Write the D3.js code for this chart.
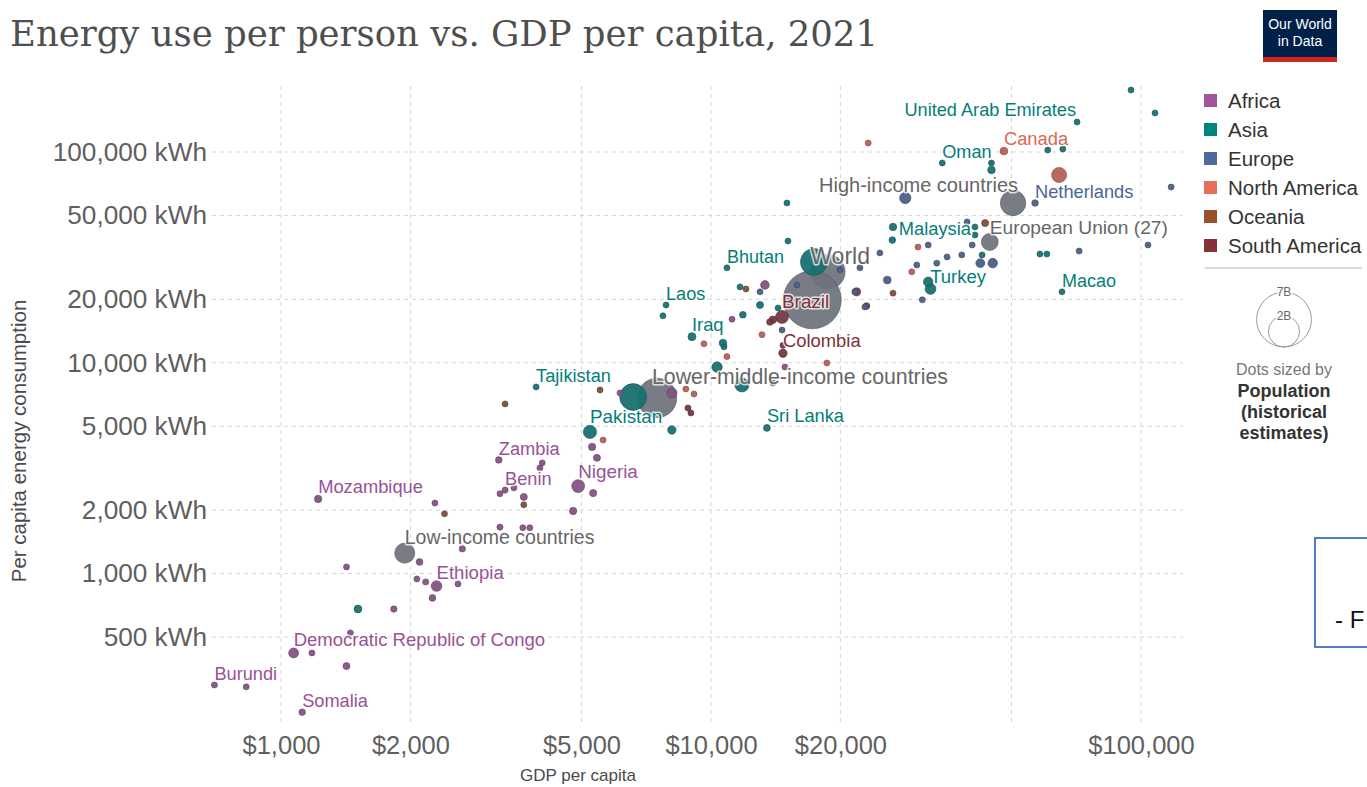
<!DOCTYPE html>
<html>
<head>
<meta charset="utf-8">
<script src="https://cdn.jsdelivr.net/npm/d3@7"></script>
<style>
  html, body { margin: 0; padding: 0; background: #fff; }
  svg { display: block; font-family: "Liberation Sans", Arial, Helvetica, sans-serif; }
</style>
</head>
<body>
<svg id="chart" width="1367" height="787"></svg>
<script>
// ---------------- data ----------------
const regions = ["Africa", "Asia", "Europe", "North America", "Oceania", "South America"];
const regionColors = ["#a2559c", "#00847e", "#4c6a9c", "#e56e5a", "#9a5129", "#883039"];

// Each row: [GDP per capita ($), energy use per person (kWh), population (millions), label]
const africa = [
  [700, 296, 12, "Burundi"], [830, 290, 5, ""], [1070, 420, 95, "Democratic Republic of Congo"],
  [1180, 420, 10, ""], [1120, 220, 17, "Somalia"], [1220, 2260, 32, "Mozambique"],
  [1420, 1075, 8, ""], [1420, 364, 25, ""], [1450, 523, 6, ""], [1830, 679, 15, ""],
  [2100, 1135, 20, ""], [2640, 1310, 15, ""], [2070, 943, 10, ""], [2170, 912, 12, ""],
  [2300, 873, 120, "Ethiopia"], [2580, 893, 5, ""], [2250, 766, 20, ""], [2280, 2160, 10, ""],
  [3210, 3460, 19, "Zambia"], [4050, 3350, 5, ""], [4000, 3170, 3, ""], [3320, 2490, 13, "Benin"],
  [3230, 2390, 8, ""], [3480, 2550, 6, ""], [3670, 2310, 25, ""], [4780, 1980, 30, ""],
  [4910, 2600, 213, "Nigeria"], [5320, 2410, 28, ""], [5290, 3990, 30, ""], [5430, 3540, 25, ""],
  [3230, 1660, 12, ""], [3650, 1650, 8, ""], [3790, 1650, 6, ""], [6140, 7190, 10, ""],
  [8110, 7190, 105, ""], [11190, 16100, 7, ""], [13350, 23400, 60, ""], [14860, 9550, 2.5, ""]
];
const asia = [
  [94800, 196800, 3, ""], [107800, 153100, 6, ""], [71000, 138800, 9, "United Arab Emirates"],
  [34500, 88700, 5, "Oman"], [60700, 102200, 4, ""], [65800, 103300, 0.5, ""],
  [44900, 88700, 1.5, ""], [44900, 82200, 35, ""], [26500, 44100, 33, "Malaysia"],
  [26400, 38200, 19, ""], [41100, 44100, 1, ""], [41100, 40400, 3, ""], [42700, 32500, 9, ""],
  [58200, 32800, 7, ""], [60400, 32800, 0.4, ""], [65500, 21700, 0.7, "Macao"],
  [32000, 24200, 85, "Turkey"], [32400, 22400, 125, ""], [10890, 28200, 0.8, "Bhutan"],
  [15020, 57300, 6, ""], [15100, 37800, 6, ""], [17350, 30100, 1412, ""],
  [7860, 18800, 7, "Laos"], [7730, 16700, 3, ""], [9030, 13300, 43, "Iraq"],
  [10660, 12400, 35, ""], [10720, 11900, 10, ""], [11860, 16900, 20, ""], [13000, 18800, 26, ""],
  [14320, 18200, 5, ""], [11680, 22900, 10, ""], [3920, 7680, 10, "Tajikistan"],
  [6590, 6880, 1408, ""], [5230, 4700, 231, "Pakistan"], [8110, 4800, 54, ""],
  [13490, 4910, 22, "Sri Lanka"], [11800, 7850, 274, ""], [1510, 679, 40, ""], [10330, 9550, 110, ""]
];
const europe = [
  [117500, 68200, 5, ""], [56700, 57300, 18, "Netherlands"], [28300, 60500, 144, ""],
  [39400, 46600, 10, ""], [71800, 33900, 9, ""], [103800, 36200, 5, ""], [30100, 29100, 10, ""],
  [33500, 29700, 10, ""], [38300, 32500, 6, ""], [35400, 31800, 5, ""], [40500, 36200, 11, ""],
  [42300, 29700, 67, ""], [45200, 29700, 83, ""], [25700, 24700, 38, ""], [31000, 19900, 10, ""],
  [22800, 18400, 3, ""], [13000, 21700, 7, ""], [15850, 23400, 3, ""], [14630, 14300, 3, ""],
  [21600, 21700, 9, ""], [24700, 33200, 5, ""], [22200, 28200, 2, ""], [19950, 27600, 4, ""],
  [32000, 36200, 5, ""], [13930, 8020, 3, ""]
];
const northAmerica = [
  [48000, 101100, 38, "Canada"], [64500, 77800, 332, ""], [23200, 110300, 1.5, ""],
  [30300, 35400, 0.4, ""], [29300, 27000, 3, ""], [9630, 12300, 11, ""], [10890, 10700, 10, ""],
  [13140, 13600, 3, ""], [18600, 9980, 3, ""], [8740, 7510, 10, ""], [9130, 7110, 10, ""],
  [5610, 4300, 10, ""]
];
const oceania = [
  [43400, 46000, 26, ""], [26500, 21400, 5, ""], [5520, 7430, 1, ""], [3320, 6380, 0.5, ""],
  [2400, 1920, 10, ""], [3670, 2120, 0.7, ""], [12060, 22400, 1, ""]
];
const southAmerica = [
  [14630, 16500, 214, "Brazil"], [14700, 11100, 51, "Colombia"], [14700, 12100, 3, ""],
  [13930, 16000, 33, ""], [13710, 15600, 18, ""], [21800, 21700, 45, ""], [23000, 18600, 19, ""],
  [8840, 6100, 12, ""], [8980, 5780, 7, ""]
];
const regionRows = [africa, asia, europe, northAmerica, oceania, southAmerica];

// Aggregate entities: [name, GDP per capita, energy per person, population (millions), labelled]
const aggregates = [
  ["Upper-middle-income countries", 18700, 27000, 2500, false],
  ["World", 17200, 19900, 7900, true],
  ["Lower-middle-income countries", 7490, 6810, 3400, true],
  ["High-income countries", 50400, 57300, 1240, true],
  ["Low-income countries", 1940, 1250, 700, true],
  ["European Union (27)", 44500, 37400, 447, true]
];

const xTickValues = [1000, 2000, 5000, 10000, 20000, 100000];
const xGridValues = [1000, 2000, 5000, 10000, 20000, 50000, 100000];
const yTickValues = [500, 1000, 2000, 5000, 10000, 20000, 50000, 100000];
const sizeLegendValues = [7000, 2000];
const sizeLegendLabels = ["7B", "2B"];

// ---------------- layout ----------------
const svg = d3.select("#chart");
const plot = { left: 212, right: 1183, top: 86, bottom: 722 };

const x = d3.scaleLog().domain([1000, 100000]).range([281, 1141]);
const y = d3.scaleLog().domain([500, 100000]).range([637, 152]);
const r = d3.scaleSqrt().domain([0, 7900]).range([2, 29]);
const radius = p => Math.max(3, r(p));

const aggregateColor = "#6d717b";
const dotFill = c => d3.interpolateRgb(c, "#4b4b55")(0.33);

// Title
svg.append("text")
  .attr("x", 10).attr("y", 46)
  .attr("font-family", "'DejaVu Serif', 'Liberation Serif', serif")
  .attr("font-size", 35)
  .attr("fill", "#4e4e4e")
  .attr("textLength", 868).attr("lengthAdjust", "spacingAndGlyphs")
  .text("Energy use per person vs. GDP per capita, 2021");

// Logo
const logo = svg.append("g");
logo.append("rect").attr("x", 1263).attr("y", 10).attr("width", 74).attr("height", 48).attr("fill", "#002147");
logo.append("rect").attr("x", 1263).attr("y", 57).attr("width", 74).attr("height", 5).attr("fill", "#ce261e");
logo.selectAll("text.logo").data(["Our World", "in Data"]).join("text")
  .attr("class", "logo")
  .attr("x", 1300).attr("y", (d, i) => 29 + i * 17)
  .attr("text-anchor", "middle").attr("font-size", 14).attr("fill", "#fff")
  .text(d => d);

// Gridlines
const grid = svg.append("g").attr("stroke", "#d6d6d6").attr("stroke-dasharray", "4,4").attr("stroke-width", 1);
grid.selectAll("line.gy").data(yTickValues).join("line")
  .attr("class", "gy")
  .attr("x1", plot.left).attr("x2", plot.right)
  .attr("y1", d => y(d)).attr("y2", d => y(d));
grid.selectAll("line.gx").data(xGridValues).join("line")
  .attr("class", "gx")
  .attr("x1", d => x(d)).attr("x2", d => x(d))
  .attr("y1", plot.top).attr("y2", plot.bottom);

// Axes (labels only; the dashed grid carries the lines)
const xAxis = d3.axisBottom(x).tickValues(xTickValues).tickSize(0).tickPadding(0)
  .tickFormat(d => "$" + d3.format(",")(d));
const gx = svg.append("g").attr("transform", `translate(0, ${plot.bottom + 14})`).call(xAxis);
gx.select(".domain").remove();
gx.selectAll("text").attr("font-size", 25.5).attr("fill", "#5f5f5f")
  .attr("font-family", "'Liberation Sans', Arial, sans-serif").attr("dy", "0.71em");

const yAxis = d3.axisLeft(y).tickValues(yTickValues).tickSize(0).tickPadding(0)
  .tickFormat(d => d3.format(",")(d) + " kWh");
const gy = svg.append("g").attr("transform", `translate(${plot.left - 5}, 0)`).call(yAxis);
gy.select(".domain").remove();
gy.selectAll("text").attr("font-size", 26.2).attr("fill", "#5f5f5f")
  .attr("font-family", "'Liberation Sans', Arial, sans-serif");

// Axis titles
svg.append("text")
  .attr("x", 578).attr("y", 781).attr("text-anchor", "middle")
  .attr("font-size", 17).attr("fill", "#4a4a4a")
  .text("GDP per capita");
svg.append("text")
  .attr("transform", "translate(26, 441) rotate(-90)").attr("text-anchor", "middle")
  .attr("font-size", 20.5).attr("fill", "#4a4a4a")
  .text("Per capita energy consumption");

// ---------------- points ----------------
const countryPoints = [];
regionRows.forEach((rows, ri) => {
  rows.forEach(([gdp, energy, pop, label]) => {
    countryPoints.push({ gdp, energy, pop, label, color: regionColors[ri], aggregate: false });
  });
});
const aggregatePoints = aggregates.map(([label, gdp, energy, pop, show]) =>
  ({ gdp, energy, pop, label: show ? label : "", color: aggregateColor, aggregate: true }));

const dots = svg.append("g");
// aggregates underneath, then countries from largest to smallest
dots.selectAll("circle.agg").data(aggregatePoints).join("circle")
  .attr("class", "agg")
  .attr("cx", d => x(d.gdp)).attr("cy", d => y(d.energy)).attr("r", d => radius(d.pop))
  .attr("fill", aggregateColor).attr("fill-opacity", 0.92)
  .attr("stroke", "#55585f").attr("stroke-width", 0.6);

dots.selectAll("circle.pt").data(countryPoints.slice().sort((a, b) => b.pop - a.pop)).join("circle")
  .attr("class", "pt")
  .attr("cx", d => x(d.gdp)).attr("cy", d => y(d.energy)).attr("r", d => radius(d.pop))
  .attr("fill", d => dotFill(d.color)).attr("fill-opacity", 0.95)
  .attr("stroke", d => d3.color(dotFill(d.color)).darker(0.8)).attr("stroke-width", 0.6);

// ---------------- labels ----------------
// placement tweaks relative to each dot (dx, dy in px from dot centre)
const labelPlacement = {
  "United Arab Emirates": rr => ({ anchor: "end", dx: -1, dy: -6 }),
  "Malaysia": rr => ({ anchor: "start", dx: rr + 2, dy: 8 }),
  "Turkey": rr => ({ anchor: "start", dx: 2, dy: 1 }),
  "World": rr => ({ anchor: "start", dx: -2, dy: -rr - 7 }),
  "High-income countries": rr => ({ anchor: "end", dx: 5, dy: -11 }),
  "Lower-middle-income countries": rr => ({ anchor: "start", dx: -5, dy: -14 }),
  "Low-income countries": rr => ({ anchor: "start", dx: 0, dy: -9 }),
  "European Union (27)": rr => ({ anchor: "start", dx: 0, dy: -8 })
};
const labelled = countryPoints.concat(aggregatePoints).filter(d => d.label);
const labels = svg.append("g");
labelled.forEach(d => {
  const rr = radius(d.pop);
  const p = (labelPlacement[d.label] || (q => ({ anchor: "start", dx: 0, dy: -q - 2 })))(rr);
  const col = d.aggregate ? "#666" : d3.interpolateRgb(d.color, "#333")(0.08);
  labels.append("text")
    .attr("x", x(d.gdp) + p.dx).attr("y", y(d.energy) + p.dy)
    .attr("text-anchor", p.anchor)
    .attr("font-size", 18 + 1.8 * Math.sqrt(d.pop / 1000))
    .attr("fill", col)
    .attr("stroke", "#fff").attr("stroke-width", 3).attr("stroke-opacity", 0.75)
    .attr("stroke-linejoin", "round").attr("paint-order", "stroke")
    .text(d.label);
});

// ---------------- legend ----------------
const legend = svg.append("g");
regions.forEach((name, i) => {
  const cy = 101 + i * 29;
  legend.append("rect").attr("x", 1204).attr("y", cy - 7).attr("width", 13).attr("height", 13)
    .attr("fill", regionColors[i]);
  legend.append("text").attr("x", 1228).attr("y", cy + 7)
    .attr("font-size", 20.5).attr("fill", "#333").text(name);
});
legend.append("line").attr("x1", 1205).attr("x2", 1362).attr("y1", 268).attr("y2", 268)
  .attr("stroke", "#cfcfcf").attr("stroke-width", 1.5);

const sizeCx = 1284, sizeBottom = 347;
sizeLegendValues.forEach((v, i) => {
  const rr = radius(v);
  legend.append("circle").attr("cx", sizeCx).attr("cy", sizeBottom - rr).attr("r", rr)
    .attr("fill", "none").attr("stroke", "#9a9a9a").attr("stroke-width", 1);
  legend.append("text").attr("x", sizeCx).attr("y", sizeBottom - 2 * rr + 4)
    .attr("text-anchor", "middle").attr("font-size", 12).attr("fill", "#666")
    .attr("stroke", "#fff").attr("stroke-width", 3).attr("paint-order", "stroke")
    .text(sizeLegendLabels[i]);
});
legend.append("text").attr("x", sizeCx).attr("y", 375).attr("text-anchor", "middle")
  .attr("font-size", 16).attr("fill", "#777").text("Dots sized by");
["Population", "(historical", "estimates)"].forEach((t, i) => {
  legend.append("text").attr("x", sizeCx).attr("y", 397 + i * 21).attr("text-anchor", "middle")
    .attr("font-size", 18).attr("font-weight", "bold").attr("fill", "#333").text(t);
});

// Side note box at the right edge
svg.append("rect").attr("x", 1315).attr("y", 538).attr("width", 70).attr("height", 109)
  .attr("fill", "#fff").attr("stroke", "#4f7ec4").attr("stroke-width", 2);
svg.append("text").attr("x", 1335).attr("y", 628).attr("font-size", 24).attr("fill", "#111")
  .text("- F");
</script>
</body>
</html>
